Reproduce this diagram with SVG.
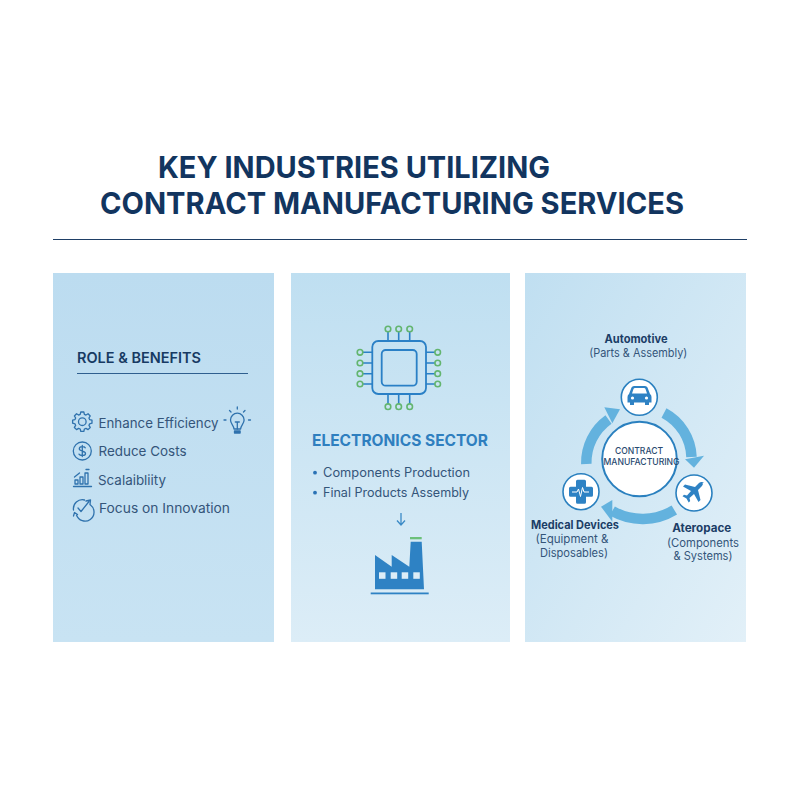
<svg xmlns="http://www.w3.org/2000/svg" width="800" height="800" viewBox="0 0 800 800">
<style>
.title{font:700 30px Inter,"Liberation Sans",Arial,sans-serif;fill:#12355f}
.body{font:13.5px Inter,"Liberation Sans",sans-serif;fill:#34557a}
.small{font:11.5px Inter,"Liberation Sans",sans-serif;fill:#34557a;text-anchor:middle}
.bold{font:700 11.5px Inter,"Liberation Sans",sans-serif;fill:#1b3d66;text-anchor:middle}
.hub{font:500 9px Inter,"Liberation Sans",sans-serif;fill:#2a4a70;text-anchor:middle}
.ln{fill:none;stroke:#2f72ad;stroke-width:1.3;stroke-linecap:round;stroke-linejoin:round}
.pin{fill:none;stroke:#63b56f;stroke-width:1.6}
.trace{stroke:#2a80c6;stroke-width:1.6}
.node{fill:#fff;stroke:#2a80bf;stroke-width:1.6}
.blue{fill:#2e82c4}
.band{fill:none;stroke:#63b2de;stroke-width:10.500}
.head{fill:#63b2de}
</style>
<defs>
<linearGradient id="g1" x1="0" y1="0" x2="0" y2="1"><stop offset="0" stop-color="#bcdcf0"/><stop offset="1" stop-color="#c8e3f3"/></linearGradient>
<linearGradient id="g2" x1="0" y1="0" x2="0" y2="1"><stop offset="0" stop-color="#bfdff1"/><stop offset="1" stop-color="#dcedf7"/></linearGradient>
<linearGradient id="g3" x1="0" y1="0" x2="1" y2="1"><stop offset="0" stop-color="#c0dff1"/><stop offset="1" stop-color="#e2f0f8"/></linearGradient>
</defs>
<rect width="800" height="800" fill="#fff"/>
<g id="title">
<text class="title" x="158" y="177.500" textLength="392" lengthAdjust="spacingAndGlyphs">KEY INDUSTRIES UTILIZING</text>
<text class="title" x="100" y="213.500" textLength="584" lengthAdjust="spacingAndGlyphs">CONTRACT MANUFACTURING SERVICES</text>
<line x1="53" y1="239.500" x2="747" y2="239.500" stroke="#1f3f66" stroke-width="1.200"/>
</g>
<g id="panel-role">
<rect x="53" y="273" width="221" height="369" fill="url(#g1)"/>
<text x="77" y="363" textLength="124" lengthAdjust="spacingAndGlyphs" style="font:600 14.500px Inter,'Liberation Sans',sans-serif;fill:#173a63">ROLE &amp; BENEFITS</text>
<line x1="77" y1="373.500" x2="248" y2="373.500" stroke="#2f5f8f" stroke-width="1.200"/>
<text class="body" x="98.500" y="427.500" textLength="120" lengthAdjust="spacingAndGlyphs">Enhance Efficiency</text>
<text class="body" x="98.500" y="456" textLength="88" lengthAdjust="spacingAndGlyphs">Reduce Costs</text>
<text class="body" x="98" y="485" textLength="68" lengthAdjust="spacingAndGlyphs">Scalaibliity</text>
<text class="body" x="99" y="513" textLength="131" lengthAdjust="spacingAndGlyphs">Focus on Innovation</text>
<g id="icon-gear" class="ln" transform="translate(82.300 421.700)"><circle r="3.800"/><path d="M7.310-2.090L9.680-1.530 9.680 1.530 7.310 2.090 6.650 3.680 7.930 5.760 5.760 7.930 3.680 6.650 2.090 7.310 1.530 9.680-1.530 9.680-2.090 7.310-3.680 6.650-5.760 7.930-7.930 5.760-6.650 3.680-7.310 2.090-9.680 1.530-9.680-1.530-7.310-2.090-6.650-3.680-7.930-5.760-5.760-7.930-3.680-6.650-2.090-7.310-1.530-9.680 1.530-9.680 2.090-7.310 3.680-6.650 5.760-7.930 7.930-5.760 6.650-3.680z"/></g>
<g id="icon-bulb" class="ln"><path d="M234 429c0-3.500-3.500-5-3.500-9a6.800 6.800 0 0 1 13.600 0c0 4-3.500 5.500-3.500 9z"/><path d="M237.300 429v-7M235.300 422h4M226 420h-2M250.500 420h-2M231 412l-1.500-1.500M243.500 412l1.500-1.500M237.300 409v-2"/><path d="M234.500 431h5.600v2h-5.600z" fill="#2f72ad"/></g>
<g id="icon-dollar" class="ln"><circle cx="82.300" cy="451" r="9"/><path d="M85.300 447.800c-1-1.500-6-1.800-6 1 0 3 6.200 1.500 6.200 4.600 0 2.800-5.500 2.500-6.500.7M82.300 445.500v11"/></g>
<g id="icon-chart" class="ln"><path d="M73.500 486.500h18"/><path d="M75 484v-4h3v4zM80 484v-7h3v7zM85 484v-11h3v11zM86 469.500h3M74.500 477l5-4"/></g>
<g id="icon-focus" class="ln"><path d="M90.500 505a9 9 0 1 1-14 10M73.500 510a9 9 0 0 1 11-10"/><path d="M78 508l3 3.500 8-10M86 501l4.500-1-.5 4.500M73.500 516l1-3.500 3 2"/></g>
</g>
<g id="panel-electronics">
<rect x="291" y="273" width="219" height="369" fill="url(#g2)"/>
<g id="chip">
<g class="trace"><path d="M388 332v9M398.700 332v9M409.700 332v9M388 394v10M398.700 394v10M409.700 394v10M363 352.300h9M363 363h9M363 373.700h9M363 384h9M426 352.300h9M426 363h9M426 373.700h9M426 384h9"/></g>
<rect x="372.300" y="341" width="53.700" height="53" rx="6" fill="none" stroke="#2a80c6" stroke-width="1.800"/>
<rect x="381.700" y="350" width="35" height="35.700" rx="4" fill="none" stroke="#2a80c6" stroke-width="1.800"/>
<g class="pin"><circle cx="388" cy="329" r="2.800"/><circle cx="398.700" cy="329" r="2.800"/><circle cx="409.700" cy="329" r="2.800"/><circle cx="388" cy="406.700" r="2.800"/><circle cx="398.700" cy="406.700" r="2.800"/><circle cx="409.700" cy="406.700" r="2.800"/><circle cx="360" cy="352.300" r="2.800"/><circle cx="360" cy="363" r="2.800"/><circle cx="360" cy="373.700" r="2.800"/><circle cx="360" cy="384" r="2.800"/><circle cx="437.700" cy="352.300" r="2.800"/><circle cx="437.700" cy="363" r="2.800"/><circle cx="437.700" cy="373.700" r="2.800"/><circle cx="437.700" cy="384" r="2.800"/></g>
</g>
<text x="312" y="445.700" textLength="176" lengthAdjust="spacingAndGlyphs" style="font:700 15.500px Inter,'Liberation Sans',sans-serif;fill:#2f7fbf">ELECTRONICS SECTOR</text>
<circle cx="315" cy="472.700" r="1.900" fill="#2a72b5"/><circle cx="315" cy="492.700" r="1.900" fill="#2a72b5"/>
<text class="body" x="323" y="477" textLength="147" lengthAdjust="spacingAndGlyphs" style="font-size:12.500px">Components Production</text>
<text class="body" x="323" y="497" textLength="146" lengthAdjust="spacingAndGlyphs" style="font-size:12.500px">Final Products Assembly</text>
<path d="M401 513v12M397 520.500l4 4.500 4-4.500" fill="none" stroke="#3b8ac6" stroke-width="1.300"/>
<g id="factory">
<rect x="410" y="537" width="11.700" height="2.300" fill="#6cc07a"/>
<path class="blue" d="M375 589.300V555l16.700 11.700V555l17.600 11.700 1.400-25h11l2.300 47.600z"/>
<g fill="#dcedf7"><rect x="379" y="572.300" width="6.500" height="6.500"/><rect x="390.700" y="572.300" width="6.500" height="6.500"/><rect x="401.700" y="572.300" width="6.500" height="6.500"/><rect x="413.300" y="572.300" width="6.500" height="6.500"/></g>
<rect x="370.700" y="592.500" width="58" height="1.800" fill="#2e82c4"/>
</g>
</g>
<g id="panel-sectors">
<rect x="525" y="273" width="221" height="369" fill="url(#g3)"/>
</g>
<g id="connectors">
<path class="band" d="M664 413A52 52 0 0 1 691.500 457"/><path class="head" d="M704 455.700L694 467.700 685 459.300z"/>
<path class="band" d="M674.300 510A61 61 0 0 1 612.300 511"/><path class="head" d="M601 506.700L612.300 500 612.300 521.700z"/>
<path class="band" d="M586.300 464A53 53 0 0 1 608.500 419.500"/><path class="head" d="M620 409.300L604.300 407.300 612.300 423.300z"/>
</g>
<g id="hub">
<circle cx="639.500" cy="459" r="37.300" fill="#fff" stroke="#2a80bf" stroke-width="2"/>
<text class="hub" x="639" y="454" textLength="48" lengthAdjust="spacingAndGlyphs">CONTRACT</text>
<text class="hub" x="641.500" y="465.300" textLength="76" lengthAdjust="spacingAndGlyphs">MANUFACTURING</text>
</g>
<g id="node-automotive">
<circle class="node" cx="639.300" cy="397.300" r="18"/>
<path class="blue" d="M629 394l2.500-6.500q.7-1.500 2.500-1.500h11q1.800 0 2.500 1.500l2.500 6.500q1.500 1 1.500 3v5.500h-2.500v2.500h-4v-2.500h-11v2.500h-4v-2.500h-2.500V397q0-2 1.500-3z"/>
<path d="M632 393.500l1.500-4.500q.3-1 1.500-1h9q1.200 0 1.500 1l1.500 4.500z" fill="#fff"/>
<circle cx="632.500" cy="398" r="1.600" fill="#fff"/><circle cx="646.500" cy="398" r="1.600" fill="#fff"/>
<text class="bold" x="636" y="342.700" textLength="63" lengthAdjust="spacingAndGlyphs">Automotive</text>
<text class="small" x="638.300" y="356.700" textLength="98" lengthAdjust="spacingAndGlyphs">(Parts &amp; Assembly)</text>
</g>
<g id="node-aerospace">
<circle class="node" cx="694" cy="493" r="18"/>
<path class="blue" d="M704 483c-1.500-1.500-4-1-5.500.5l-3.500 3.500-10-2.500-2 2 8 4.500-4 4.500-3-.7-1.500 1.500 4 2.200 2.200 4 1.500-1.500-.7-3 4.500-4 4.500 8 2-2-2.500-10 3.500-3.500c1.500-1.500 2-3.500.5-3.500z"/>
<text class="bold" x="701.700" y="532" textLength="59" lengthAdjust="spacingAndGlyphs">Ateropace</text>
<text class="small" x="703" y="546.700" textLength="72" lengthAdjust="spacingAndGlyphs">(Components</text>
<text class="small" x="703" y="560" textLength="59" lengthAdjust="spacingAndGlyphs">&amp; Systems)</text>
</g>
<g id="node-medical">
<circle class="node" cx="581" cy="491.700" r="18"/>
<path class="blue" d="M577.500 479.700h7q1.500 0 1.500 1.500v5.500h5.500q1.500 0 1.500 1.500v7q0 1.500-1.500 1.500H586v5.500q0 1.500-1.500 1.500h-7q-1.500 0-1.500-1.500v-5.500h-5.500q-1.500 0-1.500-1.500v-7q0-1.500 1.500-1.500h5.500v-5.500q0-1.500 1.500-1.500z"/>
<path d="M572 492h5l1.500-3 2 7.500 2-9 1.500 4.500h5" fill="none" stroke="#fff" stroke-width="1"/>
<text class="bold" x="575" y="529" textLength="88" lengthAdjust="spacingAndGlyphs">Medical Devices</text>
<text class="small" x="572" y="542.700" textLength="73" lengthAdjust="spacingAndGlyphs">(Equipment &amp;</text>
<text class="small" x="574" y="556.700" textLength="68" lengthAdjust="spacingAndGlyphs">Disposables)</text>
</g>
</svg>
